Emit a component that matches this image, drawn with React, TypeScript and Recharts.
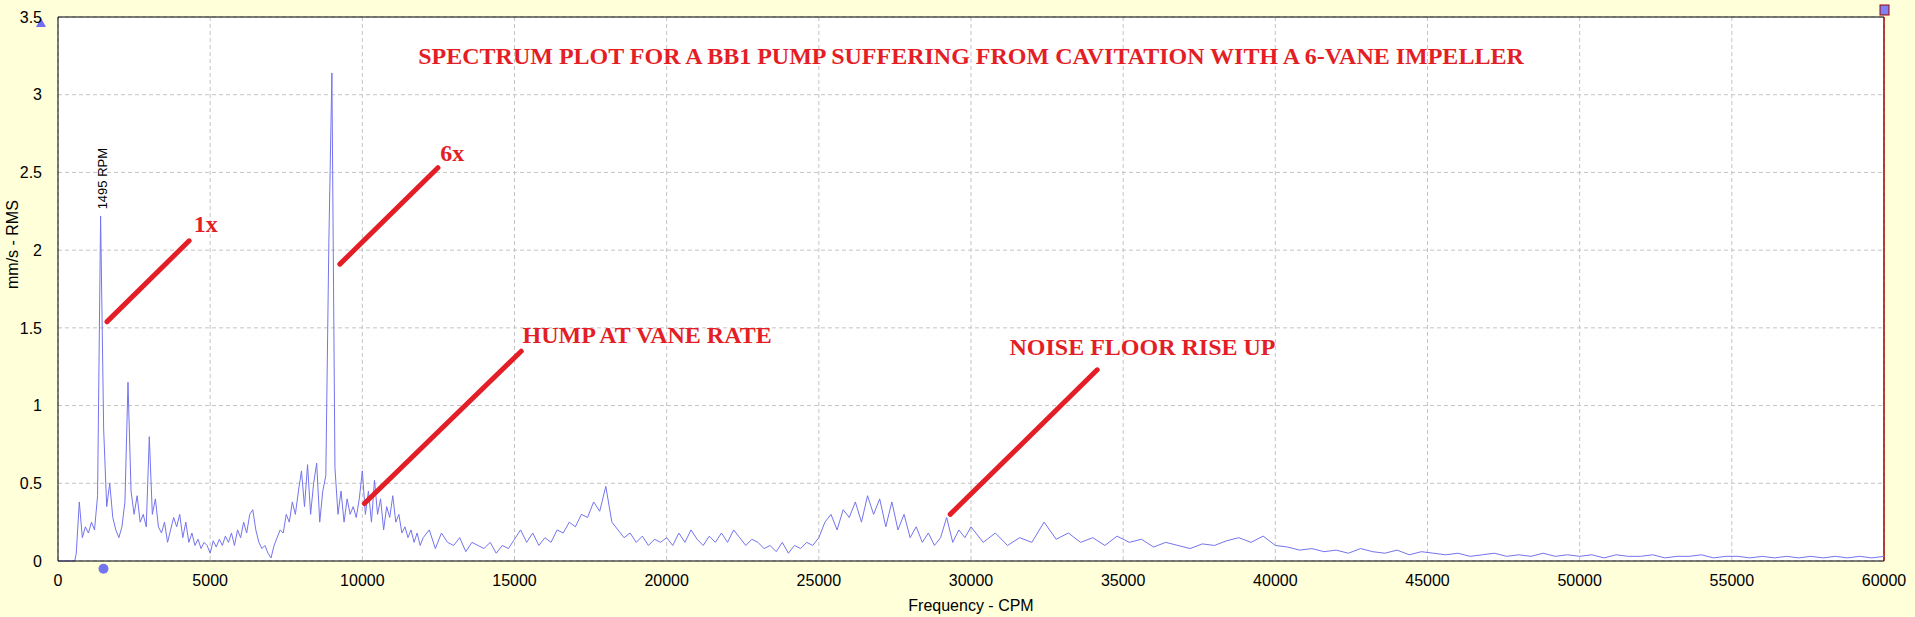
import React from 'react';
import {
  LineChart, Line, XAxis, YAxis, CartesianGrid, ReferenceLine, ReferenceDot,
} from 'recharts';

// spectrum bins: [start CPM, bin width, amplitudes mm/s RMS]
const lowBand = [
  0.05, 0.38, 0.15, 0.22, 0.18, 0.25, 0.2, 0.42, 2.22, 0.85, 0.35, 0.5, 0.28, 0.2,
  0.15, 0.22, 0.38, 1.15, 0.45, 0.3, 0.42, 0.25, 0.3, 0.22,
  0.8, 0.3, 0.4, 0.22, 0.18, 0.25, 0.12, 0.2, 0.28, 0.22,
  0.3, 0.15, 0.25, 0.12, 0.18, 0.1, 0.14, 0.08, 0.12, 0.1,
  0.05, 0.13, 0.09, 0.14, 0.1, 0.16, 0.12, 0.18, 0.1, 0.2,
  0.15, 0.25, 0.18, 0.3, 0.33, 0.2, 0.12, 0.08, 0.1, 0.05,
  0.02, 0.1, 0.15, 0.2, 0.18, 0.3, 0.25, 0.38, 0.3, 0.45,
  0.58, 0.35, 0.62, 0.3, 0.5, 0.63, 0.25, 0.45, 0.55, 2.05,
  3.14, 0.6, 0.3, 0.45, 0.25, 0.4, 0.3, 0.35, 0.28, 0.4,
  0.58, 0.3, 0.45, 0.25, 0.52, 0.3, 0.4, 0.2, 0.35, 0.28,
  0.42, 0.25, 0.3, 0.18, 0.22, 0.15, 0.2, 0.12, 0.18, 0.1,
];
const midBand = [
  0.15, 0.2, 0.08, 0.18, 0.12, 0.1, 0.15, 0.06, 0.12, 0.1,
  0.08, 0.12, 0.05, 0.1, 0.08, 0.14, 0.2, 0.12, 0.18, 0.1,
  0.15, 0.12, 0.2, 0.18, 0.25, 0.22, 0.3, 0.28, 0.38, 0.32,
  0.48, 0.25, 0.2, 0.15, 0.18, 0.12, 0.16, 0.1, 0.14, 0.12,
  0.15, 0.1, 0.18, 0.12, 0.2, 0.14, 0.1, 0.16, 0.12, 0.18,
  0.12, 0.2, 0.15, 0.1, 0.14, 0.12, 0.08, 0.1, 0.06, 0.12,
  0.05, 0.1, 0.08, 0.12, 0.1, 0.15, 0.25, 0.3, 0.2, 0.33,
  0.28, 0.38, 0.25, 0.42, 0.3, 0.4, 0.22, 0.38, 0.2, 0.3,
  0.15, 0.22, 0.12, 0.18, 0.1, 0.15, 0.28, 0.12, 0.2, 0.15,
];
const highBand = [
  0.22, 0.12, 0.18, 0.1, 0.15, 0.12, 0.25, 0.14, 0.18, 0.12,
  0.15, 0.1, 0.16, 0.12, 0.14, 0.09, 0.12, 0.1, 0.08, 0.11,
  0.1, 0.13, 0.15, 0.12, 0.16, 0.1, 0.09, 0.07, 0.08, 0.06,
  0.07, 0.05, 0.08, 0.06, 0.05, 0.07, 0.04, 0.06, 0.05, 0.04,
  0.05, 0.03, 0.04, 0.05, 0.03, 0.04, 0.03, 0.05, 0.03, 0.04,
  0.03, 0.04, 0.02, 0.04, 0.03, 0.03, 0.04, 0.02, 0.03, 0.03,
  0.04, 0.02, 0.03, 0.03, 0.02, 0.03, 0.02, 0.03, 0.02, 0.03,
  0.02, 0.03, 0.02, 0.03, 0.02, 0.03,
];
const bands: [number, number, number[]][] = [
  [600, 100, lowBand],
  [12000, 200, midBand],
  [30000, 400, highBand],
];
const xTicks = [0, 5000, 10000, 15000, 20000, 25000, 30000, 35000, 40000, 45000, 50000, 55000, 60000];
const yTicks = [0, 0.5, 1, 1.5, 2, 2.5, 3, 3.5];

// annotation arrows: [from, to] in CPM / mm/s, and label anchors
const arrows: [[number, number], [number, number]][] = [
  [[1611, 1.54], [4309, 2.06]],
  [[9262, 1.91], [12483, 2.53]],
  [[10067, 0.37], [15221, 1.35]],
  [[29315, 0.3], [34148, 1.23]],
];
const notes: { x: number; y: number; text: string }[] = [
  { x: 4300, y: 2.17, text: '1x' },
  { x: 12400, y: 2.63, text: '6x' },
  { x: 15100, y: 1.46, text: 'HUMP AT VANE RATE' },
  { x: 31100, y: 1.38, text: 'NOISE FLOOR RISE UP' },
];
const title = 'SPECTRUM PLOT FOR A BB1 PUMP SUFFERING FROM CAVITATION WITH A 6-VANE IMPELLER';

const data: { f: number; v: number }[] = [{ f: 0, v: 0 }, { f: 550, v: 0 }];
bands.forEach(([start, step, vals]) => vals.forEach((v, i) => data.push({ f: start + i * step, v })));

const noteStyle = { fill: '#e41e26', fontFamily: 'Liberation Serif', fontWeight: 700, fontSize: 24 };
const axisFont = { fill: '#000', fontSize: 16, fontFamily: 'Liberation Sans' };

const App: React.FC = () => (
  <div style={{ position: 'absolute', left: 0, top: 0, width: 1915, height: 617, background: '#ffffd9' }}>
    <LineChart width={1915} height={617} data={data} margin={{ top: 17, right: 31, left: 0, bottom: 0 }}>
      <CartesianGrid stroke="#c4c4c4" strokeDasharray="4 3" fill="#ffffff" />
      <XAxis
        dataKey="f" type="number" domain={[0, 60000]} ticks={xTicks} tickLine={false}
        stroke="#000" height={56} tick={axisFont} tickMargin={8}
        label={{ value: 'Frequency - CPM', position: 'insideBottom', offset: 6, ...axisFont }}
      />
      <YAxis
        type="number" domain={[0, 3.5]} ticks={yTicks} tickLine={false} width={58}
        stroke="#000" tick={axisFont} tickMargin={10}
        label={{ value: 'mm/s - RMS', angle: -90, position: 'insideLeft', offset: 12, ...axisFont }}
      />
      <ReferenceLine y={3.5} stroke="#000" />
      <ReferenceLine x={60000} stroke="#a00000" strokeWidth={1.5} />
      <Line type="linear" dataKey="v" stroke="#7474ee" strokeWidth={1} dot={false} isAnimationActive={false} />
      {arrows.map((a, i) => (
        <ReferenceLine key={i} segment={[{ x: a[0][0], y: a[0][1] }, { x: a[1][0], y: a[1][1] }]}
          stroke="#e41e26" strokeWidth={5} strokeLinecap="round" />
      ))}
      {notes.map((n, i) => (
        <ReferenceDot key={i} x={n.x} y={n.y} r={0}
          label={{ value: n.text, position: 'right', ...noteStyle }} />
      ))}
      <ReferenceDot x={30000} y={3.25} r={0} label={{ value: title, position: 'center', ...noteStyle }} />
      <ReferenceDot x={1495} y={2.46} r={0}
        label={(p: any) => (
          <text x={p.viewBox.x + 4} y={p.viewBox.y} transform={`rotate(-90 ${p.viewBox.x + 4} ${p.viewBox.y})`}
            textAnchor="middle" fontSize={13} fontFamily="Liberation Sans" fill="#000">1495 RPM</text>
        )} />
      <ReferenceDot x={1495} y={-0.05} r={5} fill="#7474ee" stroke="none" ifOverflow="visible" />
      <ReferenceDot x={60000} y={3.5} r={0} ifOverflow="visible"
        label={(p: any) => <rect x={p.viewBox.x - 4} y={p.viewBox.y - 12} width={9} height={10} fill="#8080f0" stroke="#a00000" />} />
      <ReferenceDot x={0} y={3.5} r={0} ifOverflow="visible"
        label={(p: any) => <polygon points={`${p.viewBox.x - 22},${p.viewBox.y + 10} ${p.viewBox.x - 12},${p.viewBox.y + 10} ${p.viewBox.x - 17},${p.viewBox.y + 1}`} fill="#6f6ff0" />} />
    </LineChart>
  </div>
);

export default App;
